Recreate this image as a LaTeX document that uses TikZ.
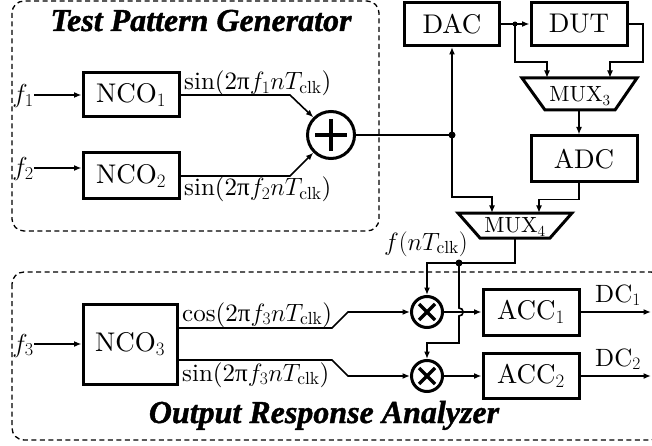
\RequirePackage{fix-cm}
\documentclass[tikz,border=0pt]{standalone}
\usepackage{fontspec}
\setmainfont{lmroman10-regular.otf}
\usetikzlibrary{arrows.meta,calc}
\newfontfamily\titlefont{Liberation Serif}[BoldItalicFeatures={FakeBold=1.2}]
\newfontfamily\libserif{Liberation Serif}
\newcommand\myupi{{\libserif π}}
\tikzset{
  blk/.style={draw, line width=3pt, inner sep=0pt, font=\fontsize{27}{30}\selectfont},
  conn/.style={line width=1.6pt},
  arr/.style={conn, -{Latex[length=7.5pt,width=6pt]}},
  dbox/.style={draw, line width=1.3pt, dash pattern=on 5pt off 3.5pt, rounded corners=12pt},
  lbl/.style={font=\fontsize{25}{30}\selectfont, inner sep=0pt},
  flbl/.style={font=\fontsize{26}{30}\selectfont, inner sep=0pt},
  dclbl/.style={font=\fontsize{25}{28}\selectfont, inner sep=0pt},
  muxlbl/.style={font=\fontsize{22}{26}\selectfont, inner sep=0pt},
  dot/.style={circle, fill, inner sep=0pt, minimum size=7pt},
  circ/.style={circle, draw, line width=3pt, inner sep=0pt},
  sym/.style={line width=3.2pt},
  trap/.style={draw, line width=3pt, line join=miter},
  ttl/.style={font=\titlefont\bfseries\itshape\fontsize{32}{36}\selectfont, inner sep=0pt}
}
\begin{document}
\begin{tikzpicture}[x=1pt,y=-1pt]
\useasboundingbox (0,0) rectangle (652,446);
% dashed boxes
\draw[dbox] (12,1) rectangle (379,231);
\begin{scope}
  \clip (0,0) rectangle (652,446);
  \draw[dbox] (12,272) rectangle (663,440);
\end{scope}
% titles
\node[ttl, anchor=base] (tpg) at (201,31) {Test Pattern Generator};
\node[ttl, anchor=base] (ora) at (324,423) {Output Response Analyzer};
% blocks
\node[blk, minimum width=96pt, minimum height=44pt] (nco1) at (131,95) {NCO$_1$};
\node[blk, minimum width=96pt, minimum height=46pt] (nco2) at (131,176) {NCO$_2$};
\node[blk, minimum width=94pt, minimum height=80pt] (nco3) at (130,344) {NCO$_3$};
\node[blk, minimum width=95pt, minimum height=43pt] (dac) at (452,24) {DAC};
\node[blk, minimum width=96pt, minimum height=43pt] (dut) at (579,24) {DUT};
\node[blk, minimum width=106pt, minimum height=46pt] (adc) at (584,159) {ADC};
\node[blk, minimum width=96pt, minimum height=46pt] (acc1) at (531,312) {ACC$_1$};
\node[blk, minimum width=96pt, minimum height=45pt] (acc2) at (531,376) {ACC$_2$};
% adder and multipliers
\node[circ, minimum size=47pt] (add) at (331,135) {};
\draw[sym] ($(add)+(-16,0)$) -- ($(add)+(16,0)$);
\draw[sym] ($(add)+(0,-16)$) -- ($(add)+(0,16)$);
\node[circ, minimum size=31pt] (m1) at (427,312) {};
\draw[sym] ($(m1)+(-8,-8)$) -- ($(m1)+(8,8)$);
\draw[sym] ($(m1)+(-8,8)$) -- ($(m1)+(8,-8)$);
\node[circ, minimum size=31pt] (m2) at (427,376) {};
\draw[sym] ($(m2)+(-8,-8)$) -- ($(m2)+(8,8)$);
\draw[sym] ($(m2)+(-8,8)$) -- ($(m2)+(8,-8)$);
% multiplexers
\draw[trap] (522,78) -- (637,78) -- (615,110) -- (545,110) -- cycle;
\node[muxlbl] (mux3) at (580,96) {MUX$_3$};
\coordinate (m3a) at (547,78);
\coordinate (m3b) at (610,78);
\coordinate (m3o) at (579,110);
\draw[trap] (458,213) -- (572,213) -- (550,238) -- (480,238) -- cycle;
\node[muxlbl] (mux4) at (515,227) {MUX$_4$};
\coordinate (m4a) at (492,213);
\coordinate (m4b) at (539,213);
\coordinate (m4o) at (515,238);
% junction dots
\node[dot] (j1) at (452,135) {};
\node[dot, minimum size=5pt] (j2) at (515,24) {};
\node[dot] (j3) at (459,263) {};
% inputs
\node[flbl, anchor=base east] (f1) at (34,103) {$f_1$};
\node[flbl, anchor=base east] (f2) at (34,176) {$f_2$};
\node[flbl, anchor=base east] (f3) at (34,352) {$f_3$};
\coordinate (f2y) at (0,168);
\draw[arr] (f1.east |- nco1.west) -- (nco1.west);
\draw[arr] (f2.east |- f2y) -- (nco2.west |- f2y);
\draw[arr] (f3.east |- nco3.west) -- (nco3.west);
% generator
\draw[arr] (nco1.east) -- (290,95) -- (add.135);
\draw[arr] (nco2.east) -- (290,176) -- (add.225);
\node[lbl, anchor=base west] (s1) at (184,90) {sin(2\myupi$f_1nT_{\mathrm{clk}}$)};
\node[lbl, anchor=base west] (s2) at (184,196) {sin(2\myupi$f_2nT_{\mathrm{clk}}$)};
\draw[conn] (add.east) -- (j1.center);
\draw[arr] (j1.center) -- (dac.south);
\draw[arr] (j1.center) -- (452,197) -| (m4a);
% DUT path
\draw[arr] (dac.east) -- (dut.west);
\draw[arr] (j2.center) -- (515,62) -| (m3a);
\draw[arr] (dut.east) -| (643,62) -| (m3b);
\draw[arr] (m3o) -- (m3o |- adc.north);
\draw[arr] (m3o |- adc.south) -- ++(0,16) -| (m4b);
% analyzer
\node[flbl, font=\fontsize{25}{28}\selectfont, anchor=base east] (fn) at (468,250) {$f(nT_{\mathrm{clk}})$};
\draw[conn] (m4o) -- (515,263) -- (j3.center);
\draw[arr] (j3.center) -- (427,263) -- (m1.north);
\draw[arr] (j3.center) -- (459,308) .. controls (464.5,308) and (464.5,316) .. (459,316) -- (459,343) -| (m2.north);
\draw[arr] ([yshift=16pt]nco3.east) -- (332,328) -- (348,312) -- (m1.west);
\draw[arr] ([yshift=-16pt]nco3.east) -- (332,360) -- (348,376) -- (m2.west);
\node[lbl, anchor=base west] (c3) at (182,321) {cos(2\myupi$f_3nT_{\mathrm{clk}}$)};
\node[lbl, anchor=base west] (s3) at (182,381) {sin(2\myupi$f_3nT_{\mathrm{clk}}$)};
\draw[arr] (m1.east) -- (acc1.west);
\draw[arr] (m2.east) -- (acc2.west);
\coordinate (o1) at (651,312);
\coordinate (o2) at (651,376);
\draw[arr] (acc1.east) -- (o1);
\draw[arr] (acc2.east) -- (o2);
\node[dclbl, anchor=base] (dc1) at (618,302) {DC$_1$};
\node[dclbl, anchor=base] (dc2) at (618,366) {DC$_2$};
\end{tikzpicture}
\end{document}
